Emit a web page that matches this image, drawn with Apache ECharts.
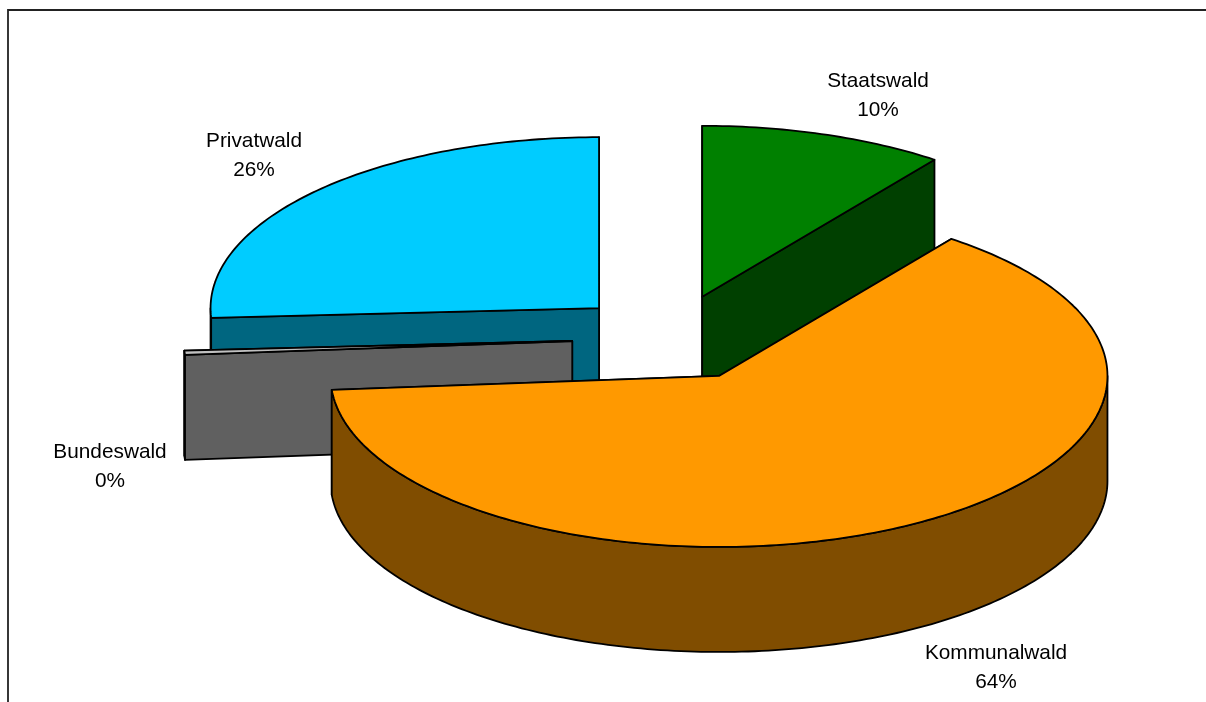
<!DOCTYPE html>
<html>
<head>
<meta charset="utf-8">
<style>html,body{margin:0;padding:0;background:#fff}#c{width:1206px;height:702px}</style>
<script src="https://cdn.jsdelivr.net/npm/echarts@6/dist/echarts.min.js"></script>
</head>
<body>
<div id="c"></div>
<script>
// Data, clockwise from 12 o'clock
const categories = ['Staatswald', 'Kommunalwald', 'Bundeswald', 'Privatwald'];
const values = [10.2, 63.5, 0.4, 25.9];
const topColors = ['#008000', '#FF9900', '#C0C0C0', '#00CCFF'];
const sideColors = ['#004000', '#804D00', '#606060', '#006680'];
// Layout
const CX = 671, CY = 338, RX = 388.5, RY = 171, DEPTH = 105, EXPLODE = 99;
const labelAnchors = [[878, 96], [996, 668], [110, 467], [254, 156]];

const total = values.reduce((a, b) => a + b, 0);
let acc = 0;
const slices = values.map((v, i) => {
  const a0 = acc / total * 360; acc += v;
  const a1 = acc / total * 360;
  const mid = (a0 + a1) / 2 * Math.PI / 180;
  return {
    i, a0, a1,
    cx: CX + EXPLODE * Math.sin(mid),
    cy: CY - EXPLODE * Math.cos(mid) * RY / 390
  };
});
const drawOrder = slices.slice().sort((p, q) => p.cy - q.cy).map(s => s.i);

function rim(s, deg, dz) {
  const t = deg * Math.PI / 180;
  return [s.cx + RX * Math.sin(t), s.cy - RY * Math.cos(t) + (dz || 0)];
}
function arc(s, from, to, dz) {
  const pts = [], n = Math.max(2, Math.ceil(Math.abs(to - from)));
  for (let k = 0; k <= n; k++) pts.push(rim(s, from + (to - from) * k / n, dz));
  return pts;
}
const edge = { stroke: '#000', lineWidth: 1.8, lineJoin: 'round' };
function poly(points, fill) {
  return { type: 'polygon', shape: { points }, style: Object.assign({ fill }, edge) };
}
function renderItem(params, api) {
  const idx = api.value(0);
  const s = slices[idx], children = [];
  const side = sideColors[idx], c = [s.cx, s.cy], cd = [s.cx, s.cy + DEPTH];
  const radial = a => {
    const r = rim(s, a);
    return poly([c, r, [r[0], r[1] + DEPTH], cd], side);
  };
  // a cut face looks towards the viewer only on these conditions
  const a0Front = Math.sin(s.a0 * Math.PI / 180) < 0;
  const a1Front = Math.sin(s.a1 * Math.PI / 180) > 0;
  if (!a0Front) children.push(radial(s.a0));
  if (!a1Front) children.push(radial(s.a1));
  // outer wall: only the part on the viewer's side (90..270 degrees)
  const w0 = Math.max(s.a0, 90), w1 = Math.min(s.a1, 270);
  if (w1 > w0) {
    children.push(poly(arc(s, w0, w1).concat(arc(s, w1, w0, DEPTH)), side));
  }
  if (a0Front) children.push(radial(s.a0));
  if (a1Front) children.push(radial(s.a1));
  children.push(poly([c].concat(arc(s, s.a0, s.a1)), topColors[idx]));
  const pct = Math.round(values[idx] / total * 100) + '%';
  children.push({
    type: 'text', z2: 10,
    style: {
      text: categories[idx] + '\n' + pct,
      x: labelAnchors[idx][0], y: labelAnchors[idx][1],
      align: 'center', verticalAlign: 'middle',
      fontFamily: '"Liberation Sans", Arial, sans-serif',
      fontSize: 20.8, lineHeight: 28.5, fill: '#000'
    }
  });
  return { type: 'group', children };
}
const chart = echarts.init(document.getElementById('c'), null, { renderer: 'canvas' });
chart.setOption({
  animation: false,
  backgroundColor: '#fff',
  graphic: [{
    type: 'polyline', silent: true,
    shape: { points: [[8, 702], [8, 10], [1206, 10]] },
    style: { stroke: '#222', lineWidth: 1.8, fill: null }
  }],
  series: [{
    type: 'custom',
    coordinateSystem: 'none',
    silent: true,
    renderItem,
    data: drawOrder.map(i => [i])
  }]
});
</script>
</body>
</html>
